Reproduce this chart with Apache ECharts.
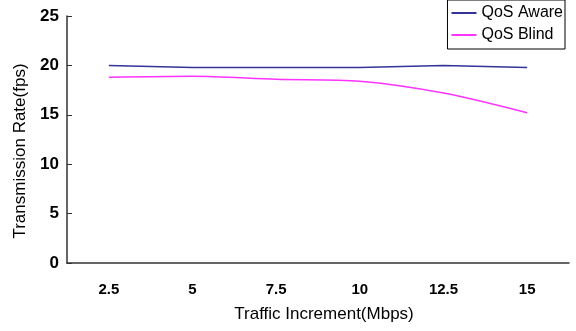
<!DOCTYPE html>
<html><head><meta charset="utf-8">
<script src="https://cdn.jsdelivr.net/npm/echarts@6/dist/echarts.min.js"></script>
<style>html,body{margin:0;padding:0;background:#fff}#c{width:576px;height:331px}</style>
</head><body><div id="c"></div>
<script>
const categories = ['2.5','5','7.5','10','12.5','15'];
const qosAware = [20.0, 19.8, 19.8, 19.8, 20.0, 19.8];
const qosBlind = [18.8, 18.9, 18.6, 18.4, 17.2, 15.2];
const yTicks = [0, 5, 10, 15, 20, 25];

const chart = echarts.init(document.getElementById('c'));
const font = 'Liberation Sans';
chart.setOption({
  animation: false,
  backgroundColor: '#fff',
  grid: {left: 67, right: 7, top: 16, bottom: 68},
  legend: {
    right: 11, top: 0,
    orient: 'vertical',
    icon: 'rect',
    itemWidth: 25, itemHeight: 2, itemGap: 4,
    padding: [4, 2, 5, 4],
    borderColor: '#000', borderWidth: 1,
    backgroundColor: '#fff',
    textStyle: {fontFamily: font, fontSize: 16, color: '#000', lineHeight: 18},
    data: ['QoS Aware', 'QoS Blind']
  },
  xAxis: {
    type: 'category', data: categories, boundaryGap: true,
    name: 'Traffic Increment(Mbps)', nameLocation: 'middle', nameGap: 43,
    nameTextStyle: {fontFamily: font, fontSize: 17, color: '#000', padding: [0, 0, 0, 12]},
    axisLine: {lineStyle: {color: '#333', width: 1.5}},
    axisTick: {inside: true, length: 4, lineStyle: {color: '#333'}},
    axisLabel: {fontFamily: font, fontSize: 15, color: '#000', margin: 19, fontWeight: 'bold'}
  },
  yAxis: {
    type: 'value', min: yTicks[0], max: yTicks[yTicks.length-1], interval: 5,
    name: 'Transmission Rate(fps)', nameLocation: 'middle', nameGap: 35,
    nameTextStyle: {fontFamily: font, fontSize: 17, color: '#000', padding: [0, 23, 0, 0]},
    axisLine: {show: true, lineStyle: {color: '#333', width: 1.5}},
    axisTick: {show: true, inside: true, length: 5, lineStyle: {color: '#333'}},
    splitLine: {show: false},
    axisLabel: {fontFamily: font, fontSize: 17, color: '#000', margin: 8, fontWeight: 'bold'}
  },
  series: [
    {name: 'QoS Aware', type: 'line', data: qosAware, symbol: 'none',
     lineStyle: {color: '#333399', width: 1.5}, itemStyle: {color: '#333399'}},
    {name: 'QoS Blind', type: 'line', data: qosBlind, symbol: 'none', smooth: 0.3,
     lineStyle: {color: '#ff33ff', width: 1.5}, itemStyle: {color: '#ff33ff'}}
  ]
});
</script></body></html>
